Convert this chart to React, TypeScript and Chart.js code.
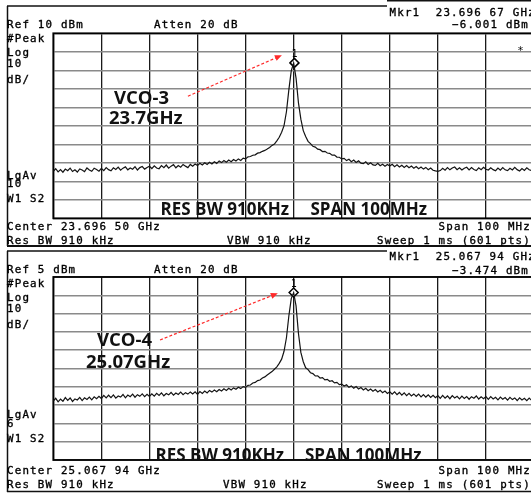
import React, { useEffect, useRef } from "react";
import { Chart, registerables } from "chart.js";

Chart.register(...registerables);

// Sweep points: frequency offset from center (MHz), 0.5 MHz apart over a 100 MHz span
const freqOffsets: number[] = Array.from({ length: 201 }, (_, i) => -50 + i * 0.5);

// VCO-3 trace (dBm)
const vco3Trace: number[] = [
  -64.6, -63.2, -64.9, -63.7, -65.1, -63.4, -64.3, -62.9, -64.7, -63.8, -65.0, -63.3, -63.9, -64.8, -62.8, -63.9, -64.6, -62.9, -63.6, -64.5,
  -63.0, -64.2, -62.6, -63.7, -64.3, -62.7, -63.6, -62.3, -64.0, -62.9, -62.2, -63.8, -62.8, -63.5, -62.1, -63.9, -62.6, -62.0, -63.4, -62.5,
  -61.9, -63.1, -61.6, -62.8, -63.2, -61.5, -62.6, -61.2, -62.9, -61.8, -61.0, -62.7, -61.5, -62.4, -60.9, -61.8, -62.6, -60.9, -61.9, -60.7,
  -61.5, -60.3, -61.2, -60.0, -60.9, -59.7, -60.6, -59.4, -60.3, -59.0, -59.9, -58.8, -59.7, -58.5, -59.4, -58.2, -59.0, -57.9, -58.7, -57.5,
  -57.9, -56.8, -56.6, -55.9, -55.7, -54.8, -54.5, -53.8, -53.3, -52.6,
  -51.7, -50.6, -49.9, -48.1, -46.2, -43.5, -39.9, -32.4, -20.6, -10.3,
  -6.0,
  -14.2, -27.6, -36.4, -42.6, -45.8, -48.4, -49.6, -51.1, -51.5, -52.6,
  -52.9, -53.9, -53.8, -54.7, -54.9, -55.9, -55.8, -56.9, -57.0, -57.9,
  -57.6, -58.8, -58.1, -59.4, -58.5, -59.8, -58.9, -60.2, -60.5, -59.5, -60.9, -60.0, -61.1, -61.4, -60.3, -61.6, -60.8, -61.9, -60.9, -61.7,
  -60.8, -62.1, -61.1, -62.3, -61.3, -62.5, -61.5, -62.7, -61.8, -62.9, -62.0, -63.2, -62.3, -63.4, -62.5, -63.7, -62.8, -64.0, -64.4, -64.6,
  -64.2, -63.0, -64.0, -62.6, -63.8, -62.8, -62.3, -63.7, -62.7, -63.9, -62.9, -62.4, -63.8, -62.6, -63.6, -64.2, -62.7, -63.7, -62.4, -63.5,
  -63.9, -62.7, -63.7, -64.3, -62.9, -64.0, -62.6, -63.8, -64.2, -63.0, -63.9, -62.5, -63.7, -64.4, -63.1, -64.1, -62.7, -63.8, -64.2, -63.3,
];

// VCO-4 trace (dBm)
const vco4Trace: number[] = [
  -62.8, -61.3, -63.2, -61.7, -62.9, -60.9, -62.4, -61.1, -63.0, -61.6, -62.2, -60.8, -62.5, -61.0, -61.9, -60.6, -62.1, -60.5, -61.5, -60.2,
  -61.4, -59.7, -61.1, -59.6, -60.9, -59.4, -61.2, -60.0, -60.6, -59.2, -61.0, -59.5, -60.4, -59.0, -60.7, -59.3, -60.2, -58.9, -60.4, -59.1,
  -60.3, -58.8, -60.1, -58.6, -59.7, -58.3, -59.9, -58.7, -59.4, -58.1, -59.6, -58.4, -59.2, -57.9, -59.3, -58.2, -59.0, -57.8, -58.9, -57.7,
  -59.1, -57.6, -58.6, -57.3, -58.4, -57.0, -57.9, -56.8, -57.7, -56.5, -57.3, -56.1, -57.0, -55.8, -56.7, -55.6, -56.3, -55.2, -56.0, -54.9,
  -55.3, -54.2, -54.0, -52.9, -52.6, -51.6, -51.3, -50.2, -49.6, -48.6,
  -47.6, -46.7, -45.4, -44.1, -42.2, -39.9, -35.6, -28.2, -16.3, -6.8,
  -3.5,
  -10.8, -25.9, -36.2, -41.3, -44.6, -45.6, -47.3, -47.8, -49.1, -49.0,
  -50.2, -50.0, -51.2, -50.9, -52.0, -51.7, -52.9, -52.6, -53.8, -53.5,
  -54.6, -53.9, -55.3, -54.5, -55.8, -54.9, -56.2, -55.4, -56.7, -55.8, -57.1, -56.2, -57.4, -56.5, -57.8, -56.9, -58.2, -57.3, -58.6, -57.7,
  -59.0, -57.8, -59.3, -58.1, -59.6, -58.3, -59.8, -58.6, -60.0, -58.9, -60.2, -59.0, -60.5, -59.2, -60.6, -59.4, -60.8, -59.6, -61.0, -59.8,
  -61.3, -59.7, -61.2, -60.0, -61.5, -59.8, -61.1, -60.2, -61.6, -60.1, -61.4, -60.3, -61.8, -60.4, -61.2, -60.0, -61.7, -60.5, -61.5, -60.3,
  -61.9, -60.4, -61.6, -60.7, -62.1, -60.6, -61.8, -60.9, -62.3, -60.8, -62.0, -61.1, -62.5, -61.0, -62.2, -61.3, -62.6, -61.2, -62.4, -61.6,
];

// Markers (offset MHz, dBm)
const vco3Marker = { f: 0.17, dBm: -6.001 };
const vco4Marker = { f: 0.0, dBm: -3.474 };

// Reference levels (dBm) and scale (10 dB/div, 10 divisions)
const vco3RefLevel = 10;
const vco4RefLevel = 5;
const dbPerDiv = 10;
const spanTicks = [-50, 50];

type MonoText = [string, number, number, CanvasTextAlign?];
type BoldText = [string, number, number, number];

interface PanelSpec {
  canvasTop: number;
  canvasHeight: number;
  area: { left: number; top: number; right: number; bottom: number };
  refLevel: number;
  trace: number[];
  marker: { f: number; dBm: number };
  mono: MonoText[];
  bold: BoldText[];
  arrow: { from: [number, number]; to: [number, number] };
  lines: [number, number, number, number, number][];
  star?: [number, number];
}

const CANVAS_W = 540;

const PANEL3: PanelSpec = {
  canvasTop: 0,
  canvasHeight: 248,
  area: { left: 53.3, top: 33.3, right: 534.3, bottom: 218.3 },
  refLevel: vco3RefLevel,
  trace: vco3Trace,
  marker: vco3Marker,
  mono: [
    ["Mkr1  23.696 67 GHz", 389.5, 16],
    ["\u22126.001 dBm", 529, 28.3, "right"],
    ["Ref 10 dBm", 7, 28.3],
    ["Atten 20 dB", 154, 28.3],
    ["#Peak", 7, 41.7],
    ["Log", 7, 55.5],
    ["10", 7, 66.7],
    ["dB/", 7, 83.3],
    ["LgAv", 7, 178.5],
    ["10", 7, 186.7],
    ["W1 S2", 7, 201.7],
    ["Center 23.696 50 GHz", 7, 230],
    ["Span 100 MHz", 531, 230, "right"],
    ["Res BW 910 kHz", 7, 244],
    ["VBW 910 kHz", 227, 244],
    ["Sweep 1 ms (601 pts)", 531, 244, "right"],
  ],
  bold: [
    ["VCO-3", 114, 103.5, 18.5],
    ["23.7GHz", 109, 124, 18.5],
    ["RES BW 910KHz", 160.5, 215, 17],
    ["SPAN 100MHz", 310.5, 215, 17],
  ],
  arrow: { from: [-22, -24], to: [-2.45, -1.9] },
  lines: [
    [7.5, 6, 7.5, 246, 1.5],
    [7, 6, 387, 6, 1.5],
    [387, 0.8, 531, 0.8, 1.5],
    [7, 246, 531, 246, 2],
  ],
  star: [521, 54],
};

const PANEL4: PanelSpec = {
  canvasTop: 248,
  canvasHeight: 245,
  area: { left: 53.3, top: 277, right: 534.3, bottom: 460 },
  refLevel: vco4RefLevel,
  trace: vco4Trace,
  marker: vco4Marker,
  mono: [
    ["Mkr1  25.067 94 GHz", 389.5, 260],
    ["\u22123.474 dBm", 529, 274.3, "right"],
    ["Ref 5 dBm", 7, 273.3],
    ["Atten 20 dB", 154, 273.3],
    ["#Peak", 7, 286.7],
    ["Log", 7, 300.5],
    ["10", 7, 311.7],
    ["dB/", 7, 328],
    ["LgAv", 7, 418.3],
    ["6", 7, 427.3],
    ["W1 S2", 7, 441.7],
    ["Center 25.067 94 GHz", 7, 473.5],
    ["Span 100 MHz", 531, 473.5, "right"],
    ["Res BW 910 kHz", 7, 487.7],
    ["VBW 910 kHz", 223, 487.7],
    ["Sweep 1 ms (601 pts)", 531, 488, "right"],
  ],
  bold: [
    ["VCO-4", 97, 345.7, 18.5],
    ["25.07GHz", 86, 367.7, 18.5],
    ["RES BW 910KHz", 155.5, 461, 17],
    ["SPAN 100MHz", 305, 461, 17],
  ],
  arrow: { from: [-27.8, -29.4], to: [-3.3, -3.9] },
  lines: [
    [7.5, 251, 7.5, 492, 1.5],
    [7, 251, 387, 251, 1.5],
    [7, 491.5, 531, 491.5, 1.5],
  ],
};

const MONO_FONT = '10.8px "DejaVu Sans Mono", "Liberation Mono", monospace';

function makePlugin(spec: PanelSpec) {
  return {
    id: "analyzerScreen",
    beforeDatasetsDraw(chart: any) {
      const { ctx, chartArea } = chart;
      ctx.save();
      ctx.strokeStyle = "#000";
      ctx.lineWidth = 1.8;
      ctx.strokeRect(chartArea.left, chartArea.top, chartArea.right - chartArea.left, chartArea.bottom - chartArea.top);
      ctx.restore();
    },
    afterDraw(chart: any) {
      const { ctx } = chart;
      const xs = chart.scales.x;
      const ys = chart.scales.y;
      ctx.save();
      ctx.translate(0, -spec.canvasTop);
      const off = spec.canvasTop;

      // frame lines
      ctx.strokeStyle = "#111";
      for (const [x1, y1, x2, y2, w] of spec.lines) {
        ctx.lineWidth = w;
        ctx.beginPath();
        ctx.moveTo(x1, y1);
        ctx.lineTo(x2, y2);
        ctx.stroke();
      }

      // mono screen annotations
      ctx.fillStyle = "#000";
      ctx.strokeStyle = "#000";
      ctx.lineWidth = 0.35;
      ctx.font = MONO_FONT;
      (ctx as any).letterSpacing = "1.2px";
      ctx.textBaseline = "alphabetic";
      for (const [t, x, y, align] of spec.mono) {
        ctx.textAlign = align || "left";
        ctx.fillText(t, x, y);
        ctx.strokeText(t, x, y);
      }
      if (spec.star) {
        ctx.textAlign = "center";
        ctx.fillText("*", spec.star[0], spec.star[1]);
      }
      (ctx as any).letterSpacing = "0px";

      // marker number
      const mx = xs.getPixelForValue(spec.marker.f);
      const my = ys.getPixelForValue(spec.marker.dBm) + off;
      ctx.font = '10px "DejaVu Sans Mono", monospace';
      ctx.textAlign = "center";
      ctx.fillText("1", mx, my - 6);

      // bold overlay labels
      ctx.fillStyle = "#111";
      ctx.textAlign = "left";
      for (const [t, x, y, size] of spec.bold) {
        ctx.font = `bold ${size}px "Open Sans", "DejaVu Sans", sans-serif`;
        ctx.fillText(t, x, y);
      }

      // red dashed arrow
      const ax1 = xs.getPixelForValue(spec.arrow.from[0]);
      const ay1 = ys.getPixelForValue(spec.arrow.from[1]) + off;
      const ax2 = xs.getPixelForValue(spec.arrow.to[0]);
      const ay2 = ys.getPixelForValue(spec.arrow.to[1]) + off;
      const ang = Math.atan2(ay2 - ay1, ax2 - ax1);
      ctx.strokeStyle = "#ff2a2a";
      ctx.fillStyle = "#ff2a2a";
      ctx.lineWidth = 1.2;
      ctx.setLineDash([3, 2]);
      ctx.beginPath();
      ctx.moveTo(ax1, ay1);
      ctx.lineTo(ax2 - 5 * Math.cos(ang), ay2 - 5 * Math.sin(ang));
      ctx.stroke();
      ctx.setLineDash([]);
      ctx.beginPath();
      ctx.moveTo(ax2, ay2);
      ctx.lineTo(ax2 - 7 * Math.cos(ang) + 3 * Math.sin(ang), ay2 - 7 * Math.sin(ang) - 3 * Math.cos(ang));
      ctx.lineTo(ax2 - 7 * Math.cos(ang) - 3 * Math.sin(ang), ay2 - 7 * Math.sin(ang) + 3 * Math.cos(ang));
      ctx.closePath();
      ctx.fill();

      ctx.restore();
    },
  };
}

function makeChart(canvas: HTMLCanvasElement, spec: PanelSpec) {
  const a = spec.area;
  const data = freqOffsets.map((f, i) => ({ x: f, y: spec.trace[i] }));
  return new Chart(canvas, {
    type: "line",
    data: {
      datasets: [
        {
          data,
          borderColor: "#141414",
          borderWidth: 1.2,
          pointRadius: 0,
          tension: 0,
          fill: false,
        },
        {
          data: [{ x: spec.marker.f, y: spec.marker.dBm }],
          showLine: false,
          pointStyle: "rectRot",
          pointRadius: 4.5,
          borderWidth: 1.5,
          borderColor: "#000",
          backgroundColor: "#fff",
        },
      ],
    },
    options: {
      animation: false,
      responsive: false,
      events: [],
      layout: {
        padding: {
          left: a.left,
          right: CANVAS_W - a.right,
          top: a.top - spec.canvasTop,
          bottom: spec.canvasTop + spec.canvasHeight - a.bottom,
        },
      },
      plugins: { legend: { display: false }, tooltip: { enabled: false } },
      scales: {
        x: {
          type: "linear",
          min: spanTicks[0],
          max: spanTicks[1],
          ticks: { display: false, stepSize: 10 },
          grid: { drawTicks: false, color: "#1a1a1a", lineWidth: 1.3 },
          border: { display: false },
        },
        y: {
          type: "linear",
          min: spec.refLevel - 10 * dbPerDiv,
          max: spec.refLevel,
          ticks: { display: false, stepSize: dbPerDiv },
          grid: { drawTicks: false, color: "#8a8a8a", lineWidth: 1.5 },
          border: { display: false },
        },
      },
    } as any,
    plugins: [makePlugin(spec)],
  });
}

export default function App() {
  const ref1 = useRef<HTMLCanvasElement>(null);
  const ref2 = useRef<HTMLCanvasElement>(null);
  useEffect(() => {
    const c1 = makeChart(ref1.current!, PANEL3);
    const c2 = makeChart(ref2.current!, PANEL4);
    return () => {
      c1.destroy();
      c2.destroy();
    };
  }, []);
  return (
    <div
      style={{
        position: "absolute",
        left: 0,
        top: 0,
        width: 531,
        height: 493,
        overflow: "hidden",
        background: "#fff",
      }}
    >
      <canvas
        ref={ref1}
        width={CANVAS_W}
        height={PANEL3.canvasHeight}
        style={{ position: "absolute", left: 0, top: PANEL3.canvasTop, width: CANVAS_W, height: PANEL3.canvasHeight }}
      />
      <canvas
        ref={ref2}
        width={CANVAS_W}
        height={PANEL4.canvasHeight}
        style={{ position: "absolute", left: 0, top: PANEL4.canvasTop, width: CANVAS_W, height: PANEL4.canvasHeight }}
      />
    </div>
  );
}
